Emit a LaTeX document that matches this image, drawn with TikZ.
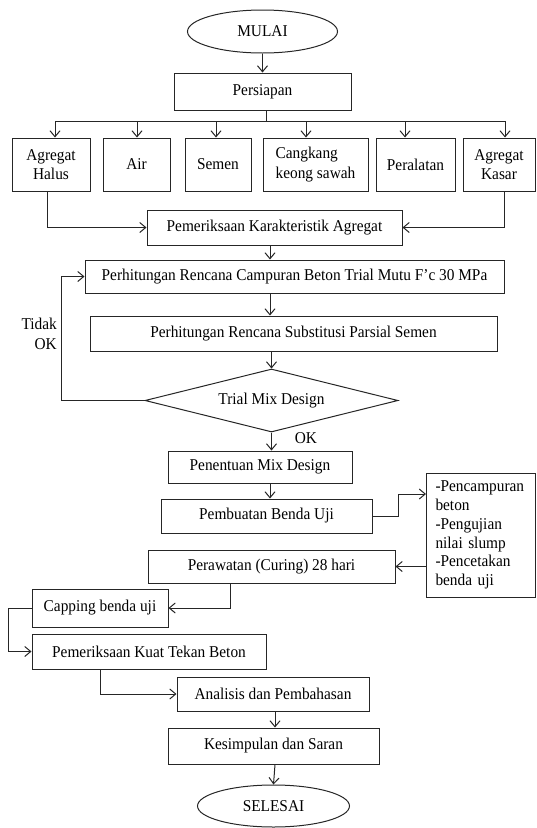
\documentclass[tikz,border=0pt]{standalone}
\usepackage{fontspec}
\setmainfont{Liberation Serif}[FakeStretch=0.93]
\usetikzlibrary{shapes.geometric,arrows.meta,calc}
\begin{document}
\begin{tikzpicture}[x=1pt,y=-1pt,
  font=\fontsize{16.5}{19.5}\selectfont,
  box/.style={draw=black!85, line width=1pt, inner sep=0pt, align=center},
  oval/.style={draw=black!85, line width=1pt, ellipse, inner sep=0pt},
  dia/.style={draw=black!85, line width=1pt, diamond, aspect=4.016, inner sep=0pt},
  arr/.style={draw=black!85, line width=1pt, -{Straight Barb[length=6pt,width=10pt]}},
  ln/.style={draw=black!85, line width=1pt},
  lbl/.style={inner sep=0pt}]
\useasboundingbox (0,0) rectangle (536,828);

% nodes
\node[oval, minimum width=150pt, minimum height=43pt] (start) at (262.5,31.5) {MULAI};
\node[box, minimum width=177pt, minimum height=37pt] (prep) at (262.5,91.5) {Persiapan};
\node[box, minimum width=78pt, minimum height=53pt] (halus) at (51,164.5) {Agregat\\Halus};
\node[box, minimum width=67pt, minimum height=53pt] (air) at (136.5,164.5) {Air};
\node[box, minimum width=66pt, minimum height=53pt] (semen) at (218,164.5) {Semen};
\node[box, minimum width=105pt, minimum height=53pt, align=left] (keong) at (315.5,164.5) {Cangkang\\keong sawah};
\node[box, minimum width=79pt, minimum height=53pt] (alat) at (415.5,164.5) {Peralatan};
\node[box, minimum width=72pt, minimum height=53pt] (kasar) at (499,164.5) {Agregat\\Kasar};
\node[box, minimum width=255pt, minimum height=35pt] (pk) at (274.5,227.5) {Pemeriksaan Karakteristik Agregat};
\node[box, minimum width=419pt, minimum height=33pt] (rc) at (294.5,276.5) {Perhitungan Rencana Campuran Beton Trial Mutu F'c 30 MPa};
\node[box, minimum width=407pt, minimum height=35pt] (rs) at (293.5,333.5) {Perhitungan Rencana Substitusi Parsial Semen};
\node[dia, minimum width=253pt, minimum height=63pt] (dm) at (271.5,400.5) {Trial Mix Design};
\node[lbl, align=right, anchor=east] (tidak) at (57,334) {Tidak\\OK};
\node[lbl] (ok) at (306,438) {OK};
\node[box, minimum width=184pt, minimum height=32pt] (pn) at (260,467) {Penentuan Mix Design};
\node[box, minimum width=211pt, minimum height=34pt] (pb) at (266.5,516) {Pembuatan Benda Uji};
\node[box, minimum width=109pt, minimum height=124pt, text width=90pt, align=left,
      font=\fontsize{16.5}{18.8}\selectfont] (lb) at (480.5,535)
      {-Pencampuran\\beton\\-Pengujian\\nilai slump\\-Pencetakan\\benda uji};
\node[box, minimum width=247pt, minimum height=33pt] (pw) at (271.5,566.5) {Perawatan (Curing) 28 hari};
\node[box, minimum width=136pt, minimum height=38pt] (cap) at (100,608) {Capping benda uji};
\node[box, minimum width=234pt, minimum height=35pt] (kt) at (149,651.5) {Pemeriksaan Kuat Tekan Beton};
\node[box, minimum width=192pt, minimum height=34pt] (an) at (273,694) {Analisis dan Pembahasan};
\node[box, minimum width=211pt, minimum height=36pt] (ks) at (273.5,746) {Kesimpulan dan Saran};
\node[oval, minimum width=152pt, minimum height=42pt] (end) at (273.5,806) {SELESAI};

% helper coordinates
\coordinate (bus) at (266,121);
\coordinate (b1) at (55,121);
\coordinate (b2) at (137,121);
\coordinate (b3) at (216,121);
\coordinate (b4) at (306,121);
\coordinate (b5) at (405,121);
\coordinate (b6) at (505,121);
\coordinate (m) at (270,0);
\coordinate (m2) at (275,0);
\coordinate (lbin) at (426,494);

% connectors
\draw[arr] (start.south) -- (prep.north);
\draw[ln] (prep.south -| bus) -- (bus);
\draw[ln] (b1) -- (b6);
\draw[arr] (b1) -- (b1 |- halus.north);
\draw[arr] (b2) -- (b2 |- air.north);
\draw[arr] (b3) -- (b3 |- semen.north);
\draw[arr] (b4) -- (b4 |- keong.north);
\draw[arr] (b5) -- (b5 |- alat.north);
\draw[arr] (b6) -- (b6 |- kasar.north);
\draw[arr] ([xshift=-4pt]halus.south) |- (pk.west);
\draw[arr] ([xshift=5pt]kasar.south) |- (pk.east);
\draw[arr] (pk.south -| m) -- (rc.north -| m);
\draw[arr] (rc.south -| m) -- (rs.north -| m);
\draw[arr] (rs.south -| dm.north) -- (dm.north);
\draw[arr] (dm.west) -- ++(-83,0) |- (rc.west);
\draw[arr] (dm.south) -- (dm.south |- pn.north);
\draw[arr] (pn.south -| m) -- (pb.north -| m);
\draw[arr] (pb.east) -- ++(26,0) |- (lbin);
\draw[arr] (lb.west |- pw.east) -- (pw.east);
\draw[arr] ([xshift=-41.5pt]pw.south) |- (cap.east);
\draw[arr] (cap.west) -- ++(-23,0) |- (kt.west);
\draw[arr] ([xshift=-49pt]kt.south) |- (an.west);
\draw[arr] (an.south -| m2) -- (ks.north -| m2);
\draw[arr] (ks.south -| m2) -- (end.north);
\end{tikzpicture}
\end{document}
